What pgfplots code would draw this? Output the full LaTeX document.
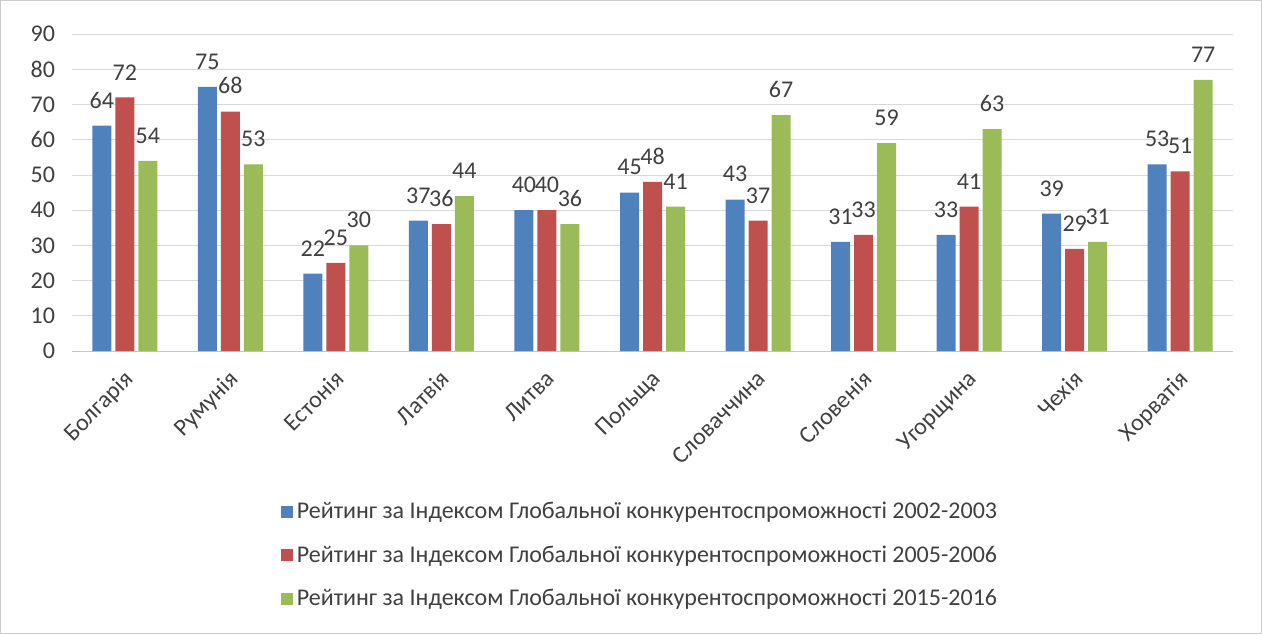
\documentclass[border=0pt]{standalone}
\usepackage{fontspec}
\setmainfont{Carlito}
\usepackage{pgfplots}
\pgfplotsset{compat=1.18}
\definecolor{cb}{HTML}{4F81BD}
\definecolor{cr}{HTML}{C0504D}
\definecolor{cg}{HTML}{9BBB59}
\definecolor{txt}{HTML}{404040}
\begin{document}
\begin{tikzpicture}
\begin{axis}[
  at={(0,0)}, anchor=south west,
  scale only axis, width=580.5pt, height=158.5pt,
  ybar=2pt, bar width=9.5pt,
  xmin=-0.5, xmax=10.5, ymin=0, ymax=90,
  ytick={0,10,...,90},
  xtick=data,
  xticklabels={Болгарія,Румунія,Естонія,Латвія,Литва,Польща,Словаччина,Словенія,Угорщина,Чехія,Хорватія},
  xticklabel style={rotate=45, anchor=north east, font=\fontsize{12}{14}\selectfont, text=txt, inner sep=1pt, xshift=-6pt, yshift=-4.5pt},
  yticklabel style={font=\fontsize{12}{14}\selectfont, text=txt, xshift=-5pt},
  /pgf/number format/assume math mode=true,
  major tick length=0pt,
  axis x line*=bottom, axis y line*=left,
  x axis line style={draw=gray!45},
  y axis line style={draw=none},
  ymajorgrids, grid style={draw=gray!30},
  nodes near coords,
  every node near coord/.append style={font=\fontsize{12}{14}\selectfont, text=txt, inner sep=2pt, yshift=6.5pt},
  legend style={at={(0.49,-0.45)}, anchor=north, draw=none, font=\fontsize{12}{14}\selectfont, text=txt, row sep=8pt, legend cell align=left},
  legend image code/.code={\fill[#1] (0pt,-3pt) rectangle (6pt,3pt);},
]
\addplot[fill=cb, draw=none] coordinates {(0,64)(1,75)(2,22)(3,37)(4,40)(5,45)(6,43)(7,31)(8,33)(9,39)(10,53)};
\addplot[fill=cr, draw=none] coordinates {(0,72)(1,68)(2,25)(3,36)(4,40)(5,48)(6,37)(7,33)(8,41)(9,29)(10,51)};
\addplot[fill=cg, draw=none] coordinates {(0,54)(1,53)(2,30)(3,44)(4,36)(5,41)(6,67)(7,59)(8,63)(9,31)(10,77)};
\legend{Рейтинг за Індексом Глобальної конкурентоспроможності 2002-2003,
Рейтинг за Індексом Глобальної конкурентоспроможності 2005-2006,
Рейтинг за Індексом Глобальної конкурентоспроможності 2015-2016}
\end{axis}
\draw[gray!40, line width=0.5pt] (-35.75pt,-141.25pt) rectangle (594.75pt,175.25pt);
\end{tikzpicture}
\end{document}
